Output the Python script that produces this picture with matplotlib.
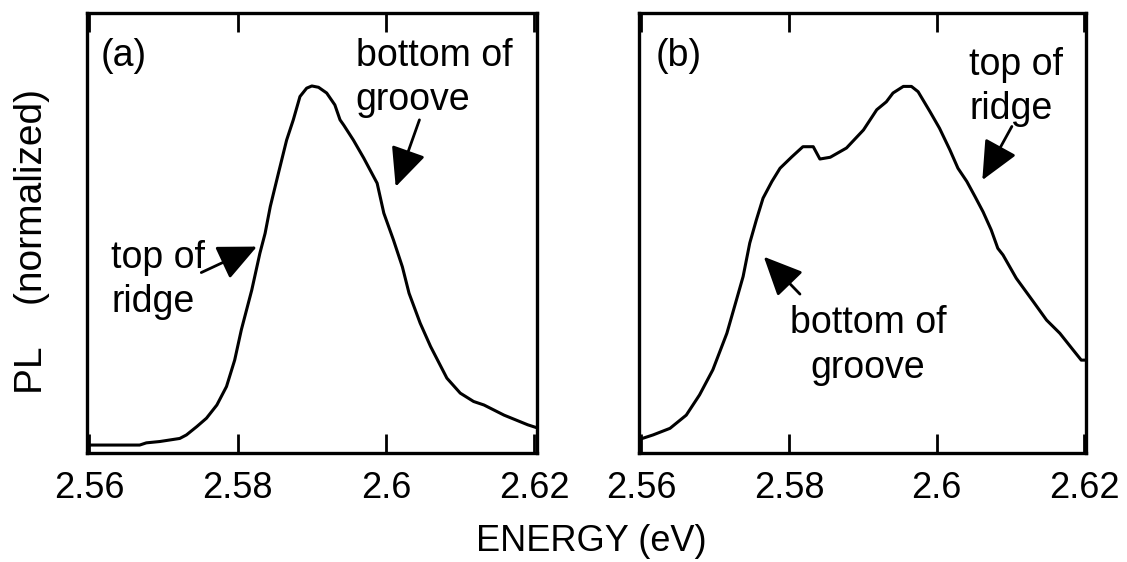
import matplotlib
matplotlib.use("Agg")
import matplotlib.pyplot as plt

plt.rcParams['font.family'] = ['Liberation Sans', 'DejaVu Sans']

# PL spectra (energy in eV, normalized intensity)
energy_a = [2.5596, 2.5668, 2.5677, 2.5695, 2.5722, 2.5731, 2.5745, 2.5758, 2.5772,
            2.5785, 2.5796, 2.5805, 2.5819, 2.5830, 2.5837, 2.5844, 2.5855, 2.5866,
            2.5875, 2.5884, 2.5893, 2.5900, 2.5909, 2.5920, 2.5931, 2.5938, 2.5943,
            2.5956, 2.5970, 2.5988, 2.5997, 2.6010, 2.6022, 2.6031, 2.6046, 2.6060,
            2.6082, 2.6100, 2.6118, 2.6132, 2.6159, 2.6191, 2.6202]
pl_a = [0.018, 0.018, 0.023, 0.026, 0.033, 0.041, 0.060, 0.079, 0.109,
        0.151, 0.211, 0.280, 0.370, 0.454, 0.499, 0.560, 0.636, 0.711,
        0.757, 0.810, 0.829, 0.834, 0.831, 0.818, 0.791, 0.757, 0.745,
        0.711, 0.670, 0.613, 0.545, 0.484, 0.423, 0.363, 0.295, 0.242,
        0.170, 0.136, 0.117, 0.109, 0.086, 0.064, 0.058]

energy_b = [2.5596, 2.5616, 2.5639, 2.5661, 2.5679, 2.5697, 2.5716, 2.5729, 2.5738,
            2.5747, 2.5756, 2.5765, 2.5777, 2.5788, 2.5804, 2.5819, 2.5833, 2.5842,
            2.5856, 2.5878, 2.5901, 2.5919, 2.5932, 2.5941, 2.5955, 2.5966, 2.5975,
            2.5991, 2.6004, 2.6018, 2.6029, 2.6041, 2.6052, 2.6063, 2.6074, 2.6083,
            2.6090, 2.6108, 2.6131, 2.6149, 2.6167, 2.6185, 2.6196, 2.6201]
pl_b = [0.030, 0.041, 0.056, 0.086, 0.132, 0.189, 0.272, 0.348, 0.401,
        0.477, 0.530, 0.579, 0.617, 0.647, 0.673, 0.696, 0.696, 0.668,
        0.672, 0.693, 0.734, 0.780, 0.798, 0.818, 0.833, 0.833, 0.821,
        0.776, 0.738, 0.689, 0.647, 0.617, 0.583, 0.548, 0.507, 0.465,
        0.450, 0.397, 0.344, 0.302, 0.272, 0.234, 0.211, 0.211]

xticks = [2.56, 2.58, 2.60, 2.62]
xtick_labels = ['2.56', '2.58', '2.6', '2.62']

fig = plt.figure(figsize=(11.27, 5.62), dpi=100)
ax_a = fig.add_axes([0.0772, 0.194, 0.399, 0.783])
ax_b = fig.add_axes([0.567, 0.194, 0.397, 0.783])

arrow_kw = dict(arrowstyle='-|>,head_length=1.2,head_width=0.55', mutation_scale=20,
                color='black', lw=2, shrinkA=0, shrinkB=0)
txt_kw = dict(fontsize=27, linespacing=1.3, va='top')

for ax, x, y in [(ax_a, energy_a, pl_a), (ax_b, energy_b, pl_b)]:
    ax.plot(x, y, color='black', lw=2.2)
    ax.set_xlim(2.5597, 2.6203)
    ax.set_ylim(0, 1)
    ax.set_xticks(xticks)
    ax.set_xticklabels(xtick_labels)
    ax.set_yticks([])
    ax.tick_params(axis='x', direction='in', top=True, length=14, width=2,
                   labelsize=26, pad=13)
    for s in ax.spines.values():
        s.set_linewidth(2.4)

# panel (a)
ax_a.text(2.5616, 0.943, '(a)', **txt_kw)
ax_a.text(2.5959, 0.943, 'bottom of\ngroove', ha='left', **txt_kw)
ax_a.annotate('', xy=(2.6013, 0.605), xytext=(2.6045, 0.757), arrowprops=arrow_kw)
ax_a.text(2.5630, 0.484, 'top of\nridge', ha='left', **txt_kw)
ax_a.annotate('', xy=(2.5826, 0.469), xytext=(2.5751, 0.410), arrowprops=arrow_kw)

# panel (b)
ax_b.text(2.5619, 0.943, '(b)', **txt_kw)
ax_b.text(2.6044, 0.923, 'top of\nridge', ha='left', **txt_kw)
ax_b.annotate('', xy=(2.6062, 0.620), xytext=(2.6102, 0.742), arrowprops=arrow_kw)
ax_b.text(2.5907, 0.336, 'bottom of\ngroove', ha='center', multialignment='center', **txt_kw)
ax_b.annotate('', xy=(2.5766, 0.446), xytext=(2.5815, 0.361), arrowprops=arrow_kw)

fig.text(0.525, 0.036, 'ENERGY (eV)', fontsize=26, ha='center', va='center')
fig.text(0.028, 0.571, 'PL    (normalized)', fontsize=28, rotation=90,
         ha='center', va='center')

fig.savefig('out.png', dpi=100)
